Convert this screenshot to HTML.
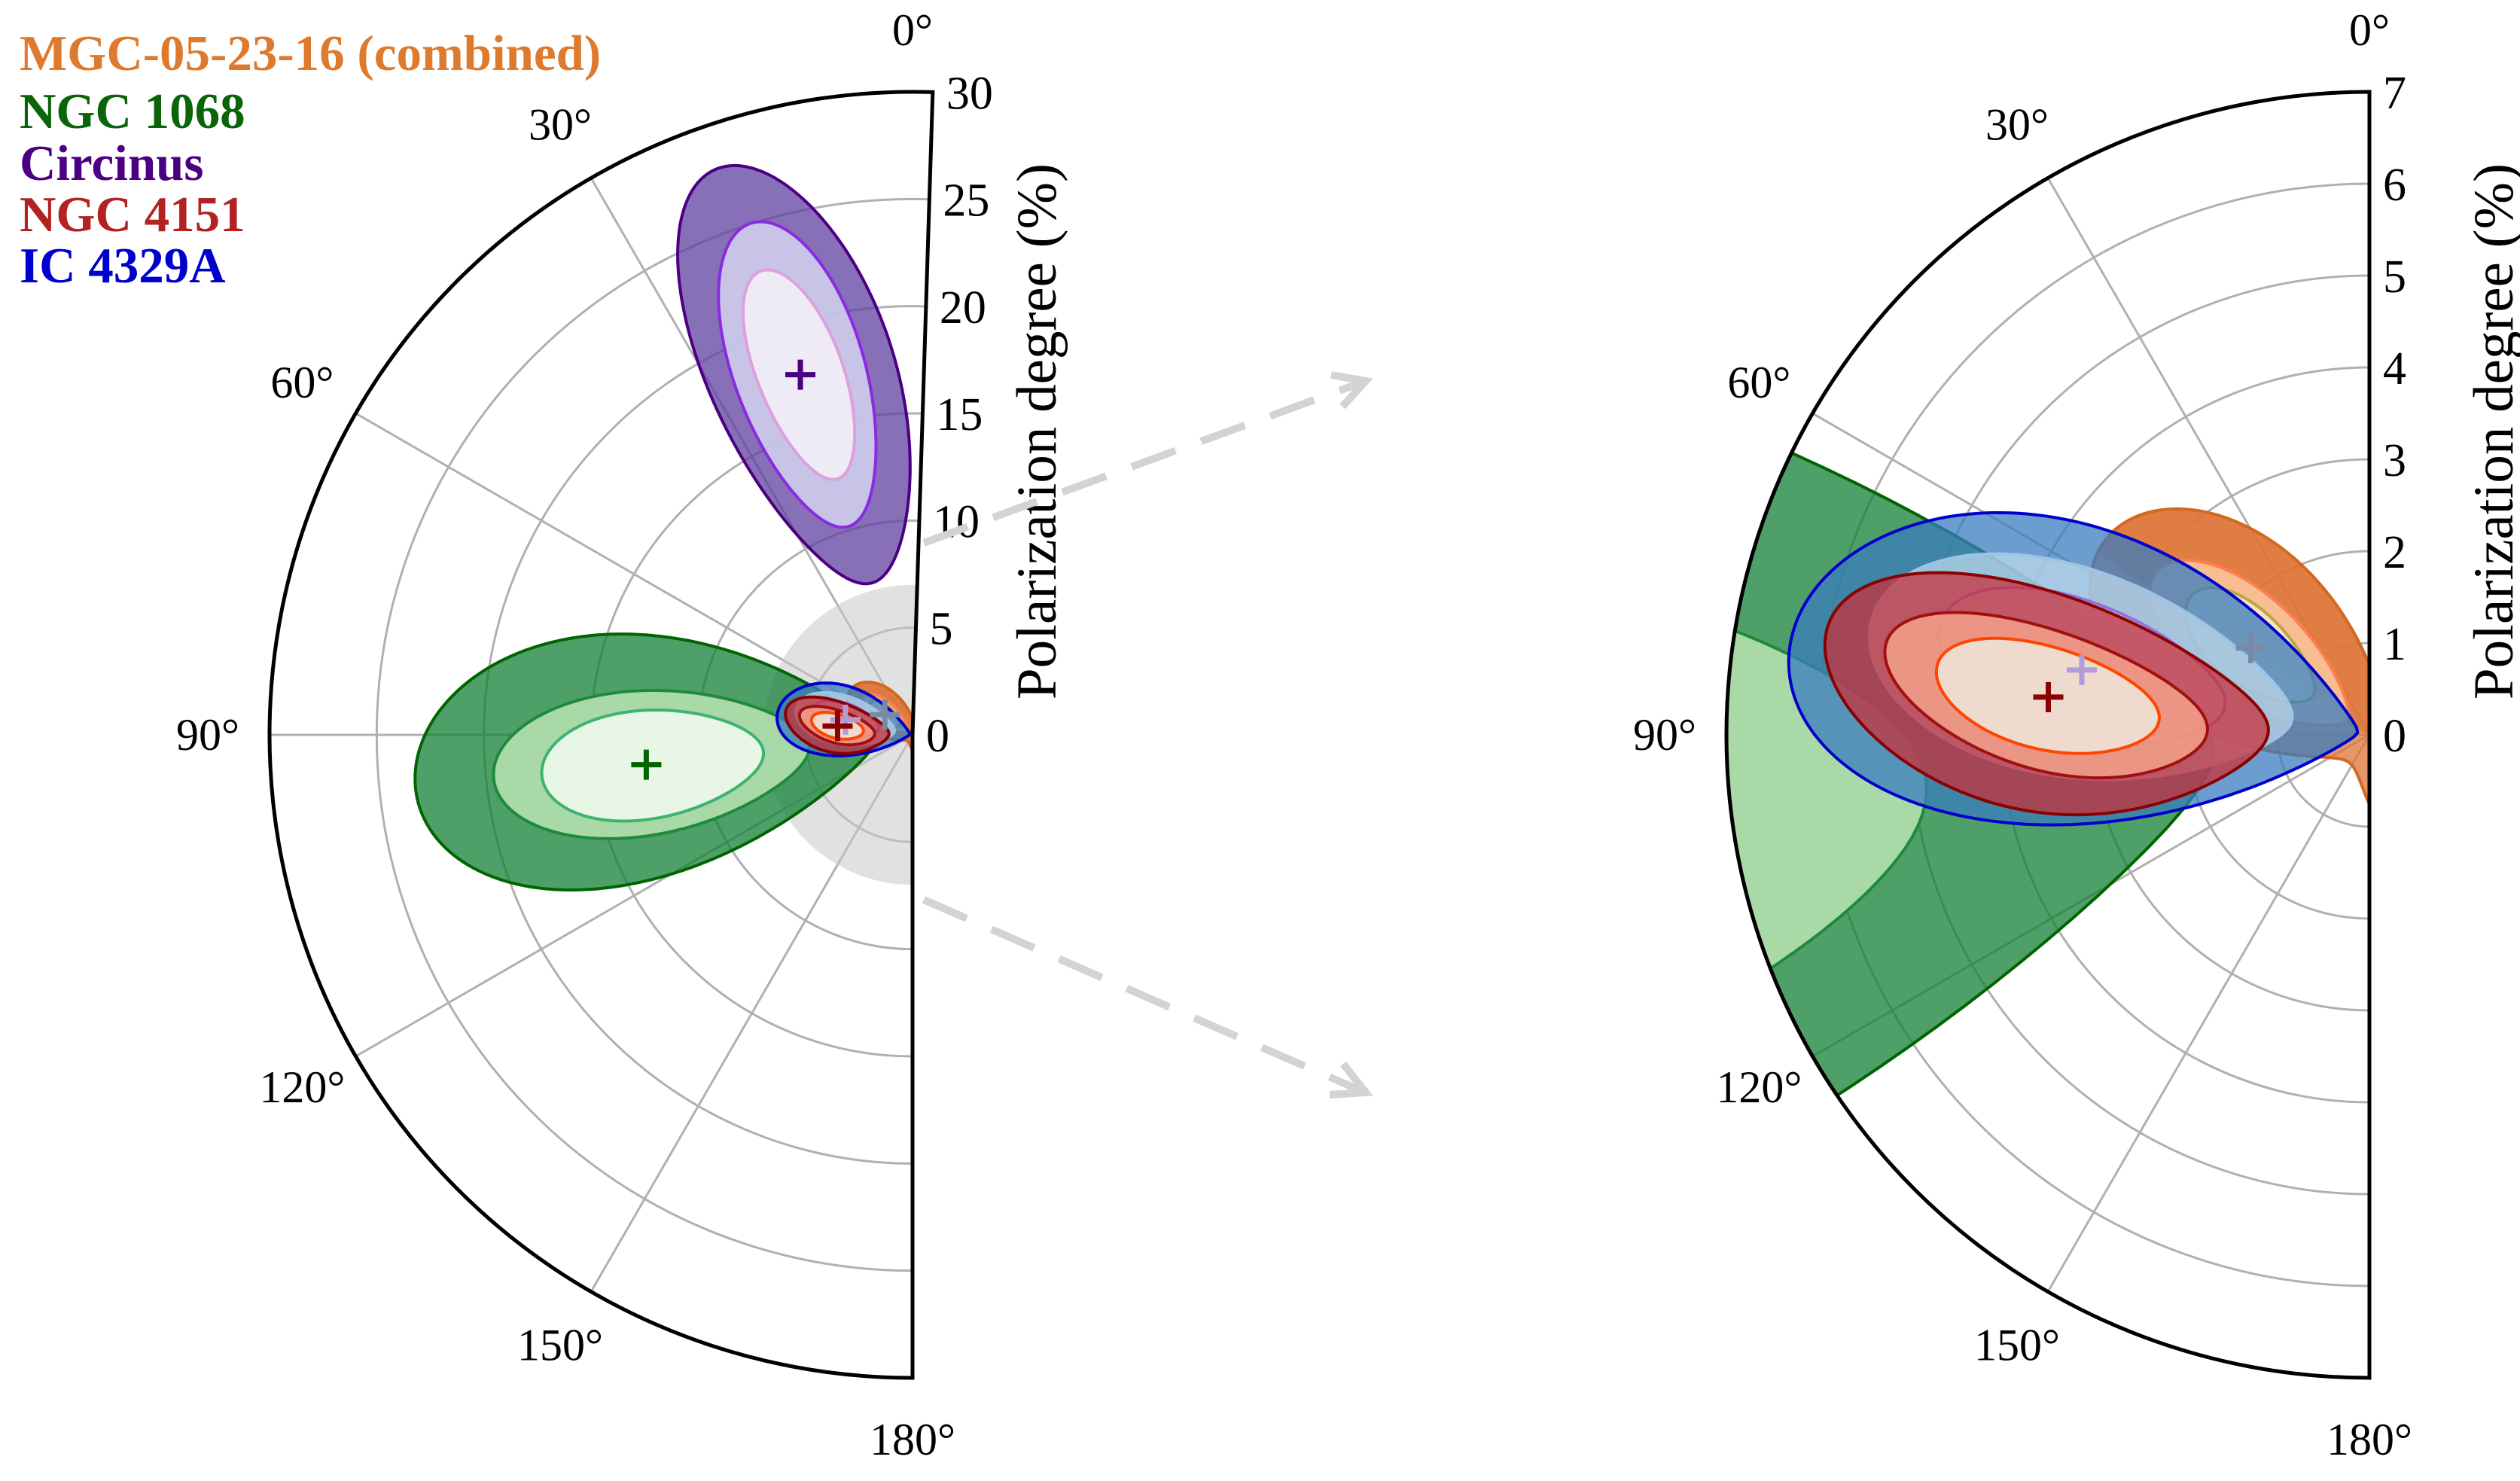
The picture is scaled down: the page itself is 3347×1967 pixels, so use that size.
<!DOCTYPE html>
<html><head><meta charset="utf-8"><style>
html,body{margin:0;padding:0;background:#fff;overflow:hidden;}
svg{display:block;font-family:"Liberation Serif",serif;}
</style></head><body>
<svg id="fig" width="3347" height="1967" viewBox="0 0 3347 1967" xmlns="http://www.w3.org/2000/svg">
<g id="legend" font-weight="bold" font-size="67">
<text x="26" y="93" fill="#dd7a2e">MGC-05-23-16 (combined)</text>
<text x="26" y="170" fill="#0a640a">NGC 1068</text>
<text x="26" y="239" fill="#4b0082">Circinus</text>
<text x="26" y="307" fill="#b22222">NGC 4151</text>
<text x="26" y="375" fill="#0000cd">IC 4329A</text>
</g>
<g id="arrows" stroke="#d3d3d3" stroke-width="10" fill="none">
<line x1="1227" y1="721" x2="1806" y2="509" stroke-dasharray="62 36"/>
<polyline points="1768,498 1814,506 1783,540"/>
<line x1="1227" y1="1195" x2="1806" y2="1448" stroke-dasharray="62 36"/>
<polyline points="1784,1413 1814,1451 1766,1454"/>
</g>
</svg>
<script>
// ---- data (polarization degree %, angle deg) ----
// contour params: [P0, theta0, radialA, tangA, radialB, tangB] (ellipse in Q/U space)
const circinusCross=[17.6,17.3];
const circinusContours=[[17.6,17.3,9.7,-1.8,3.5,8.4],[17.6,17.3,6.8,-2.3,3,5.6],[17.6,17.3,4.8,-1.0,1.9,3.9]];
const ngc1068Cross=[12.5,96.4];
const ngc1068Contours=[[12.5,95,10.8,0,0.5,11],[12.25,96,7.4,0,0,6.6],[12.2,96.4,5.2,0,0,5.0]];
const mcgCross=[1.6,53.8];
const mcgContours=[[1.6,53.8,1.95,0.3,-0.3,1.9],[1.6,53.8,1.3,0.1,-0.2,1.1],[1.6,53.8,0.85,0,-0.1,0.8]];
const icCross=[3.21,77.3];
const icContours=[[3.25,79.5,3.12,0,0.2,3.12],[3.21,78,2.35,0,-0.1,2.2],[3.21,77.3,1.6,0,-0.2,1.5]];
const n4151Cross=[3.52,83.3];
const n4151Contours=[[3.52,83.3,2.4,0,-0.55,2.37],[3.52,83.3,1.7,0,-0.6,1.6],[3.52,83.3,1.2,0,-0.3,1.15]];
const leftTicks=[0,5,10,15,20,25,30];
const rightTicks=[0,1,2,3,4,5,6,7];
const angleTicks=[0,30,60,90,120,150,180];

const NS="http://www.w3.org/2000/svg";
const svg=document.getElementById('fig');
function mk(tag,attrs,parent){const e=document.createElementNS(NS,tag);for(const k in attrs)e.setAttribute(k,attrs[k]);(parent||svg).appendChild(e);return e;}

const groups=[
 {name:'ngc1068',wrap:false,c:ngc1068Contours,x:ngc1068Cross,cc:'#006400',fill:['#147f35','#b2dfae','#eef8ec'],op:[0.75,0.9,0.9],st:['#006400','#1e8a3c','#3cb371']},
 {name:'circinus',wrap:false,c:circinusContours,x:circinusCross,cc:'#4b0082',fill:['#6040a0','#d2d2ee','#f3f0f7'],op:[0.75,0.85,0.9],st:['#4b0082','#8a2be2','#dda0dd']},
 {name:'mcg',wrap:true,c:mcgContours,x:mcgCross,cc:'#7a8aa6',fill:['#dd7438','#fdc8a0','#fde7c6'],op:[0.75,0.85,0.85],st:['#d2691e','#ff7f50','#b8a848']},
 {name:'ic4329a',wrap:false,c:icContours,x:icCross,cc:'#b19cd9',fill:['#3a7cbe','#c2dcec','#e6e0f4'],op:[0.75,0.7,0.3],st:['#0000cd','#9cc4e4','#9370db']},
 {name:'ngc4151',wrap:false,c:n4151Contours,x:n4151Cross,cc:'#8b0000',fill:['#c8323c','#f3a08a','#efe2d6'],op:[0.75,0.85,0.9],st:['#8b0000','#a01010','#ff4500']}
];

function contourPts(p){
 const [P0,t0,ar,at,br,bt]=p;const ph=2*t0*Math.PI/180;
 const er=[Math.cos(ph),Math.sin(ph)],et=[-Math.sin(ph),Math.cos(ph)];
 const pts=[];let prev=null,off=0;const N=180;
 for(let i=0;i<=N;i++){
  const t=2*Math.PI*i/N;const r=P0+ar*Math.cos(t)+br*Math.sin(t);const g=at*Math.cos(t)+bt*Math.sin(t);
  const q=r*er[0]+g*et[0],u=r*er[1]+g*et[1];
  let a=Math.atan2(u,q);
  if(prev===null){off=Math.round((ph-a)/(2*Math.PI))*2*Math.PI;}
  else{while(a+off-prev>Math.PI)off-=2*Math.PI;while(a+off-prev<-Math.PI)off+=2*Math.PI;}
  a+=off;prev=a;
  pts.push([Math.hypot(q,u),a*90/Math.PI]);
 }
 const enclose=Math.abs(pts[N][1]-pts[0][1])>90;
 return {pts,enclose};
}

function makePlot(id,cx,cy,R,rmax,thmin,ticks,gray){
 const s=R/rmax;
 const xy=(P,th)=>{const a=th*Math.PI/180;return [cx-P*s*Math.sin(a),cy-P*s*Math.cos(a)];};
 const g=mk('g',{});
 
 
 const clipId=id+'-clip';
 const defs=mk('defs',{},g);
 const cp=mk('clipPath',{id:clipId},defs);
 const t0=xy(rmax,thmin),t1=xy(rmax,180);
 const sector=`M${cx},${cy} L${t0[0]},${t0[1]} A${R},${R} 0 ${thmin<0?1:0} 0 ${t1[0]},${t1[1]} Z`;
 mk('path',{d:sector},cp);
 const grid=mk('g',{stroke:'#b0b0b0','stroke-width':3,fill:'none'},g);
 
 
 ticks.forEach(v=>{if(v<=0||v>=rmax)return;const a=xy(v,thmin),b=xy(v,180);
  const c=mk('path',{d:`M${a[0]},${a[1]} A${v*s},${v*s} 0 ${thmin<0?1:0} 0 ${b[0]},${b[1]}`},grid);
  
  });
 angleTicks.forEach(a=>{if(a===0||a===180)return;const p=xy(rmax,a);
  const l=mk('line',{x1:cx,y1:cy,x2:p[0],y2:p[1]},grid);
  
  });
 const body=mk('g',{'clip-path':`url(#${clipId})`},g);
 if(gray){const d=mk('circle',{cx:cx,cy:cy,r:gray*s,fill:'#c8c8c8','fill-opacity':0.55},body);
  
  }
 groups.forEach(G=>{
  const gg=mk('g',{},body);
  
  
  G.c.forEach((p,k)=>{
   const {pts,enclose}=contourPts(p);
   const shifts=(G.wrap||enclose)?[-180,0,180]:[0];
   shifts.forEach(sh=>{
    let d='';pts.forEach((q,i)=>{const v=xy(q[0],q[1]+sh);d+=(i?'L':'M')+v[0].toFixed(1)+','+v[1].toFixed(1);});
    const fd=d+(enclose?`L${cx},${cy}Z`:'Z');
    const e=mk('path',{d:fd,fill:G.fill[k],'fill-opacity':G.op[k],stroke:'none'},gg);
    
    
    const l=mk('path',{d:enclose?d:d+'Z',fill:'none',stroke:G.st[k],'stroke-width':4,'stroke-linejoin':'round'},gg);
    
    
   });
  });
 });
 groups.forEach(G=>{
  const c=xy(G.x[0],G.x[1]);
  const cr=mk('path',{d:`M${c[0]-20},${c[1]}H${c[0]+20}M${c[0]},${c[1]-20}V${c[1]+20}`,stroke:G.cc,'stroke-width':7},body);
  
  
 });
 const fr=mk('path',{d:sector,fill:'none',stroke:'#000','stroke-width':5},g);
 
 
 ticks.forEach(v=>{const p=xy(v,thmin);
  const t=mk('text',{x:p[0]+18,y:p[1]+22,'font-size':62},g);t.textContent=v;
  
  });
 angleTicks.forEach(a=>{const q=xy(rmax,a);
  const dx=q[0]-cx,dy=q[1]-cy;const L=Math.hypot(dx,dy);
  const x=cx+dx*(L+82)/L,y=cy+dy*(L+82)/L;
  const t=mk('text',{x:x,y:y+20,'font-size':60,'text-anchor':'middle'},g);t.textContent=a+'°';
  
  });
 const yl=mk('text',{x:0,y:0,'font-size':75,'text-anchor':'middle',transform:`translate(${cx+190},${(cy+120)/2+25}) rotate(-90)`},g);
 yl.textContent='Polarization degree (%)';
 
 
}
makePlot('left-polar-plot',1212,976,854,30,-1.8,leftTicks,7);
makePlot('right-polar-plot',3147,976,854,7,0,rightTicks,0);
svg.appendChild(document.getElementById('arrows'));
</script>
</body></html>
